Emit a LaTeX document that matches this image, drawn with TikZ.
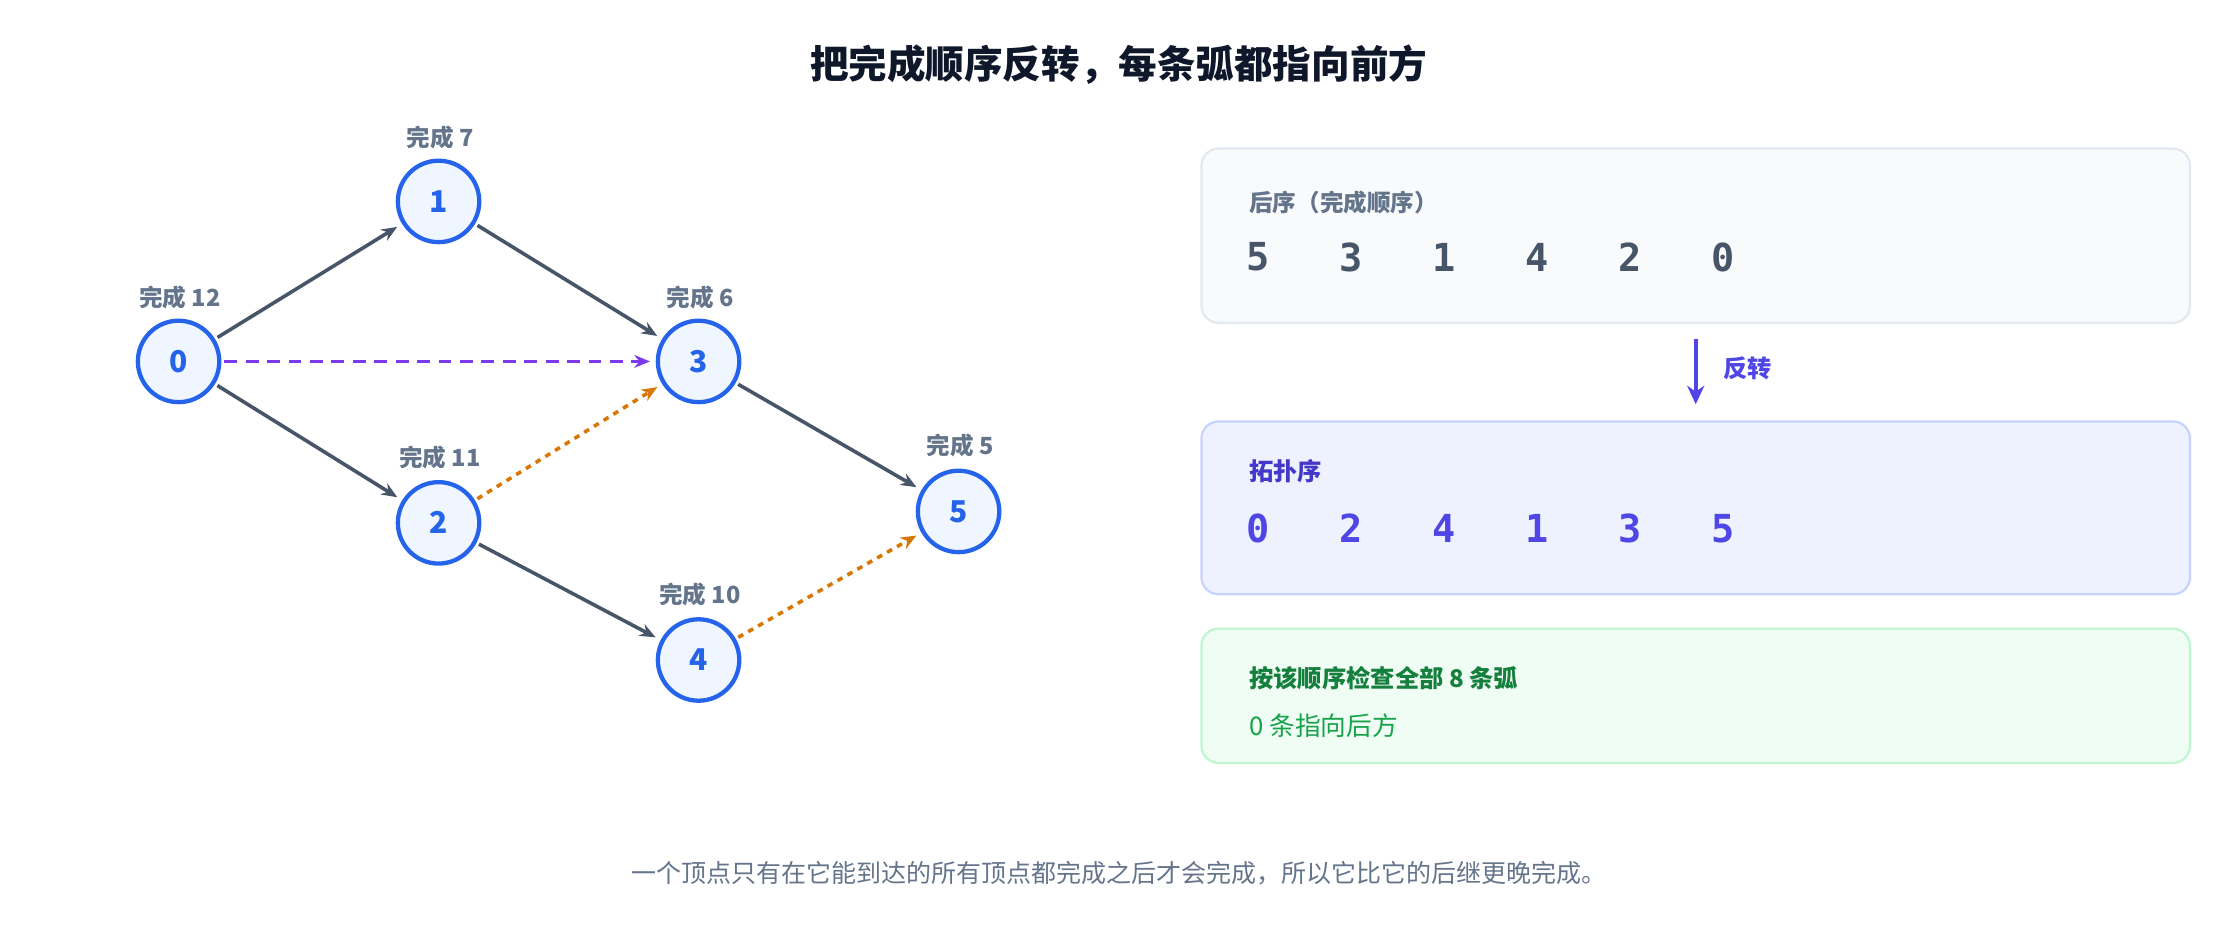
\documentclass[tikz,border=0pt]{standalone}
\usepackage{fontspec}
\setmainfont{Noto Sans CJK SC}
\newfontfamily\cjk{Noto Sans CJK SC}
\newfontfamily\monof{DejaVu Sans Mono}
\usetikzlibrary{arrows.meta}
\definecolor{nodeblue}{HTML}{2563EB}
\definecolor{nodefill}{HTML}{EFF6FF}
\definecolor{edgegray}{HTML}{475569}
\definecolor{labgray}{HTML}{64748B}
\definecolor{purp}{HTML}{7C3AED}
\definecolor{orng}{HTML}{D97706}
\definecolor{indi}{HTML}{4F46E5}
\definecolor{indid}{HTML}{4338CA}
\definecolor{titlec}{HTML}{0F172A}
\definecolor{seqc}{HTML}{475569}
\definecolor{b1f}{HTML}{F8FAFC}
\definecolor{b1d}{HTML}{E2E8F0}
\definecolor{b2f}{HTML}{EEF2FF}
\definecolor{b2d}{HTML}{C7D2FE}
\definecolor{b3f}{HTML}{F0FDF4}
\definecolor{b3d}{HTML}{BBF7D0}
\definecolor{gd}{HTML}{15803D}
\definecolor{gl}{HTML}{16A34A}
\begin{document}
\begin{tikzpicture}[x=1pt,y=-1pt,
  vert/.style={circle,draw=nodeblue,line width=3pt,fill=nodefill,minimum size=57pt,inner sep=0pt,text=nodeblue,font=\fontsize{21}{21}\selectfont\bfseries},
  fin/.style={text=labgray,font=\fontsize{16.5}{16.5}\selectfont\bfseries},
  tip/.style={-{Stealth[length=11pt,width=9pt]},line width=2.5pt,shorten >=4pt,shorten <=2pt},
  solidE/.style={tip,draw=edgegray},
  dashE/.style={tip,draw=purp,dash pattern=on 9pt off 6pt},
  dotE/.style={tip,draw=orng,dash pattern=on 4pt off 4pt},
  box/.style={rounded corners=12pt,line width=1.5pt},
  seq/.style={font=\monof\fontsize{27}{27}\selectfont\bfseries}]
\useasboundingbox (0,0) rectangle (1568,658);
\node[text=titlec,font=\fontsize{27}{27}\selectfont\bfseries] (title) at (783,45) {把完成顺序反转，每条弧都指向前方};
\node[vert] (n0) at (125,253) {0};
\node[vert] (n1) at (307,141) {1};
\node[vert] (n3) at (489,253) {3};
\node[vert] (n2) at (307,366) {2};
\node[vert] (n4) at (489,462) {4};
\node[vert] (n5) at (671,358) {5};
\node[fin] (f0) at (126,208) {完成 12};
\node[fin] (f1) at (308,96) {完成 7};
\node[fin] (f3) at (490,208) {完成 6};
\node[fin] (f2) at (308,320) {完成 11};
\node[fin] (f4) at (490,416) {完成 10};
\node[fin] (f5) at (672,312) {完成 5};
\draw[solidE] (n0) -- (n1);
\draw[solidE] (n0) -- (n2);
\draw[solidE] (n1) -- (n3);
\draw[solidE] (n2) -- (n4);
\draw[solidE] (n3) -- (n5);
\draw[dashE] (n0) -- (n3);
\draw[dotE] (n2) -- (n3);
\draw[dotE] (n4) -- (n5);
\draw[box,draw=b1d,fill=b1f] (841,104) rectangle (1533,226);
\node[fin,anchor=west] (pl) at (871,142) {后序（完成顺序）};
\foreach \v [count=\i] in {5,3,1,4,2,0}
  \node[seq,text=seqc] (p\i) at (881+65*\i-65,180) {\v};
\coordinate (a1) at (1187,237);
\coordinate (a2) at (1187,283);
\draw[-{Stealth[length=13pt,width=12pt]},line width=2.5pt,draw=indi] (a1) -- (a2);
\node[text=indi,font=\fontsize{17}{17}\selectfont\bfseries,anchor=west] (rev) at (1203,258) {反转};
\draw[box,draw=b2d,fill=b2f] (841,295) rectangle (1533,416);
\node[anchor=west,text=indid,font=\fontsize{17}{17}\selectfont\bfseries] (tl) at (871,330) {拓扑序};
\foreach \v [count=\i] in {0,2,4,1,3,5}
  \node[seq,text=indi] (t\i) at (881+65*\i-65,370) {\v};
\draw[box,draw=b3d,fill=b3f] (841,440) rectangle (1533,534);
\node[anchor=west,text=gd,font=\fontsize{17}{17}\selectfont\bfseries] (g1) at (871,475) {按该顺序检查全部 8 条弧};
\node[anchor=west,text=gl,font=\fontsize{18}{18}\selectfont] (g2) at (871,508) {0 条指向后方};
\node[text=labgray,font=\fontsize{17.5}{17.5}\selectfont] (foot) at (783,611) {一个顶点只有在它能到达的所有顶点都完成之后才会完成，所以它比它的后继更晚完成。};
\end{tikzpicture}
\end{document}
